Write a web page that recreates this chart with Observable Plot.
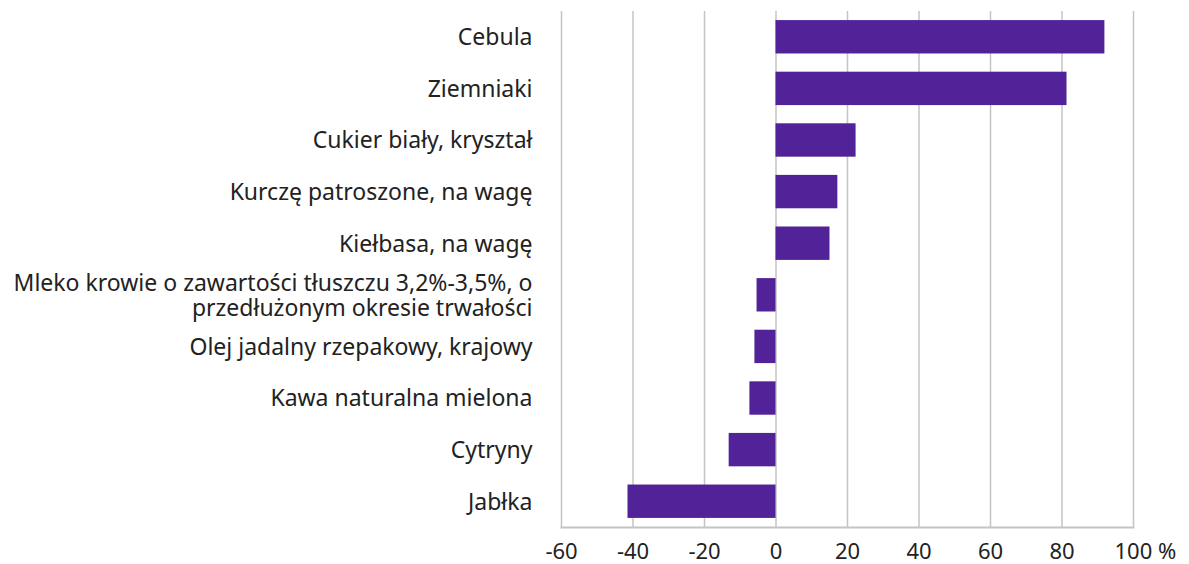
<!DOCTYPE html>
<html>
<head>
<meta charset="utf-8">
<script src="https://cdn.jsdelivr.net/npm/d3@7"></script>
<script src="https://cdn.jsdelivr.net/npm/@observablehq/plot@0.6"></script>
<style>
  html, body { margin: 0; padding: 0; background: #fff; }
  #chart { width: 1189px; height: 564px; }
</style>
</head>
<body>
<div id="chart"></div>
<script>
const categories = [
  "Cebula",
  "Ziemniaki",
  "Cukier biały, kryształ",
  "Kurczę patroszone, na wagę",
  "Kiełbasa, na wagę",
  "Mleko krowie o zawartości tłuszczu 3,2%-3,5%, o\nprzedłużonym okresie trwałości",
  "Olej jadalny rzepakowy, krajowy",
  "Kawa naturalna mielona",
  "Cytryny",
  "Jabłka"
];
const values = [92.0, 81.4, 22.4, 17.3, 15.1, -5.3, -5.9, -7.3, -13.1, -41.4];
const xTicks = [-60, -40, -20, 0, 20, 40, 60, 80, 100];
const lastTickLabel = "100 %";

const data = categories.map((c, i) => ({name: c, value: values[i]}));
const lastTick = xTicks[xTicks.length - 1];
const innerTicks = xTicks.slice(0, -1);

const chart = Plot.plot({
  width: 1189,
  height: 564,
  marginTop: 11,
  marginBottom: 37,
  marginLeft: 561,
  marginRight: 56,
  style: {fontFamily: "'Noto Sans', sans-serif", fontSize: "22px", color: "#222"},
  x: {domain: [-60, 100], ticks: xTicks},
  y: {domain: categories, paddingInner: 0.353, paddingOuter: 0.176, round: false},
  marks: [
    Plot.gridX(xTicks, {stroke: "#c4c4c4", strokeOpacity: 1, strokeWidth: 1.5}),
    Plot.frame({anchor: "bottom", stroke: "#c4c4c4", strokeWidth: 2}),
    Plot.barX(data, {x: "value", y: "name", fill: "#522398"}),
    Plot.axisX(innerTicks, {tickSize: 0, tickPadding: 16, label: null, fontSize: 22, fill: "#222", tickFormat: d => String(d)}),
    Plot.axisX([lastTick], {tickSize: 0, tickPadding: 16, label: null, fontSize: 22, fill: "#222", textAnchor: "start", dx: -19, tickFormat: () => lastTickLabel}),
    Plot.axisY({tickSize: 0, tickPadding: 29, label: null, fontSize: 23, fill: "#222", lineHeight: 1.08})
  ]
});
document.getElementById("chart").appendChild(chart);
</script>
</body>
</html>
